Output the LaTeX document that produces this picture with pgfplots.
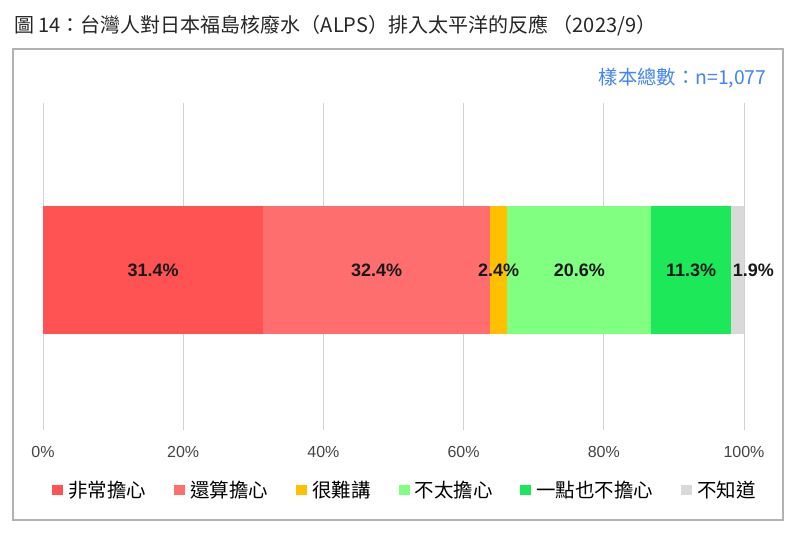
\documentclass[border=0pt]{standalone}
\usepackage{fontspec}
\setmainfont{Liberation Sans}
\newfontfamily\cjk{Noto Sans CJK TC}
\usepackage{pgfplots}
\pgfplotsset{compat=1.18}

\definecolor{cVery}{HTML}{FF5252}
\definecolor{cSome}{HTML}{FF6E6E}
\definecolor{cHard}{HTML}{FFC000}
\definecolor{cNot}{HTML}{80FF80}
\definecolor{cNone}{HTML}{1DE85A}
\definecolor{cDK}{HTML}{D9D9D9}
\definecolor{cBlue}{HTML}{4285F4}
\definecolor{cTick}{HTML}{444444}
\tikzset{val/.style={font=\bfseries\fontsize{13.5}{15}\selectfont, text=black!90}}

\begin{document}
\begin{tikzpicture}
% canvas 800x533 px, 1px = 0.75pt
\path[fill=white] (0,0) rectangle (600pt,399.75pt);
\draw[color=black!30, line width=0.8pt] (9.75pt,363pt) rectangle (587.25pt,9.75pt);
\node[anchor=west, inner sep=0pt, text=black!85] at (10.5pt,380.5pt)
  {\cjk\fontsize{15}{17}\selectfont 圖 14：台灣人對日本福島核廢水（ALPS）排入太平洋的反應 （2023/9）};
\node[anchor=east, inner sep=0pt, text=cBlue] at (575pt,341.5pt)
  {\cjk\fontsize{14.5}{16}\selectfont 樣本總數：n=1,077};

\begin{axis}[
    at={(32.25pt,77.25pt)}, anchor=south west,
    scale only axis, width=525.75pt, height=245.25pt,
    xbar stacked, bar width=96pt,
    xmin=0, xmax=100, ymin=0, ymax=327,
    xtick={0,20,40,60,80,100},
    xticklabels={0\%,20\%,40\%,60\%,80\%,100\%},
    ytick=\empty,
    axis line style={draw=none},
    tick style={draw=none}, major tick length=0pt,
    xmajorgrids, major grid style={color=black!18, line width=0.75pt},
    xticklabel style={font=\fontsize{12}{14}\selectfont, text=cTick, yshift=-8.5pt},
    legend columns=6,
    legend style={at={(0.517,-0.1835)}, anchor=center, draw=none, fill=none,
      font=\fontsize{14.6}{17}\selectfont\cjk,
      /tikz/every even column/.append style={column sep=19pt}},
    legend image code/.code={\fill[#1] (0pt,-4.1pt) rectangle (8.25pt,4.1pt);
      \path (10pt,0pt);},
  ]
\addplot[fill=cVery, draw=none] coordinates {(31.4,160)};
\addplot[fill=cSome, draw=none] coordinates {(32.4,160)};
\addplot[fill=cHard, draw=none] coordinates {(2.4,160)};
\addplot[fill=cNot, draw=none] coordinates {(20.6,160)};
\addplot[fill=cNone, draw=none] coordinates {(11.3,160)};
\addplot[fill=cDK, draw=none] coordinates {(1.9,160)};
\legend{非常擔心,還算擔心,很難講,不太擔心,一點也不擔心,不知道}

\coordinate (l1) at (axis cs:15.7,160);
\coordinate (l2) at (axis cs:47.6,160);
\coordinate (l3) at (axis cs:65.0,160);
\coordinate (l4) at (axis cs:76.5,160);
\coordinate (l5) at (axis cs:92.45,160);
\coordinate (l6) at (axis cs:98.1,160);
\end{axis}
\node[val] at (l1) {31.4\%};
\node[val] at (l2) {32.4\%};
\node[val] at (l3) {2.4\%};
\node[val] at (l4) {20.6\%};
\node[val] at (l5) {11.3\%};
\node[val, anchor=west, inner sep=1.5pt] at (l6) {1.9\%};
\end{tikzpicture}
\end{document}
